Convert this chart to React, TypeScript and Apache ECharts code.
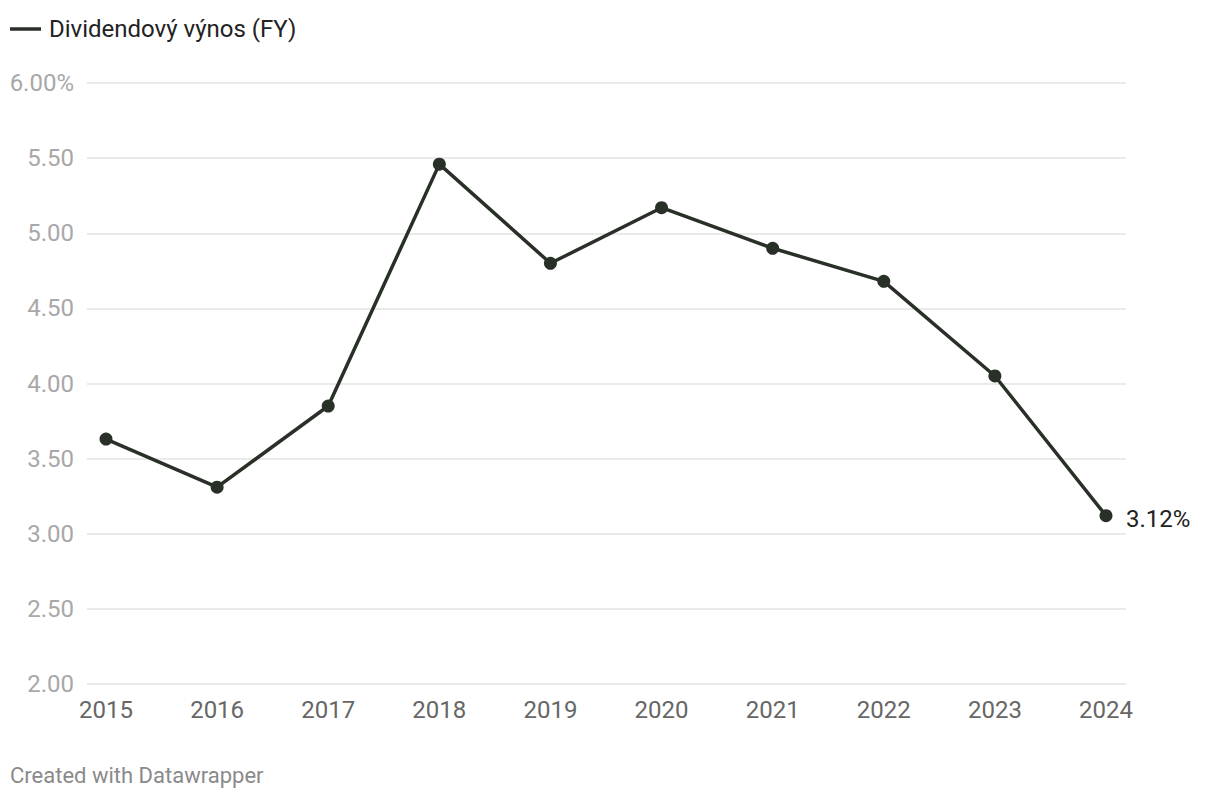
import React, { useEffect, useRef } from "react";
import * as echarts from "echarts";

const years = ["2015", "2016", "2017", "2018", "2019", "2020", "2021", "2022", "2023", "2024"];
const yieldValues = [3.63, 3.31, 3.85, 5.46, 4.8, 5.17, 4.9, 4.68, 4.05, 3.12];
const seriesName = "Dividendový výnos (FY)";
const yMin = 2;
const yMax = 6;
const yStep = 0.5;

const FONT = "Roboto, 'Noto Sans', sans-serif";
const LINE = "#293027";

export default function App() {
  const ref = useRef<HTMLDivElement>(null);
  useEffect(() => {
    if (!ref.current) return;
    const chart = echarts.init(ref.current, undefined, { renderer: "svg" });
    chart.setOption({
      animation: false,
      backgroundColor: "#ffffff",
      textStyle: { fontFamily: FONT },
      legend: {
        left: 10,
        top: 17,
        padding: 0,
        icon: "rect",
        itemWidth: 31,
        itemHeight: 3.5,
        selectedMode: false,
        data: [{ name: seriesName, itemStyle: { color: LINE } }],
        textStyle: { fontSize: 24, color: "#222222", fontFamily: FONT, padding: [0, 0, 0, 3] },
      },
      graphic: [
        {
          type: "text",
          left: 10,
          top: 764,
          style: { text: "Created with Datawrapper", fontSize: 22, fill: "#8a8a8a", fontFamily: FONT },
        },
      ],
      grid: [
        { left: 106, right: 114, top: 83, bottom: 116 },
        { left: 87, right: 94, top: 83, bottom: 116 },
      ],
      xAxis: [
        {
          type: "category",
          gridIndex: 0,
          data: years,
          boundaryGap: false,
          axisLine: { show: false },
          axisTick: { show: false },
          splitLine: { show: false },
          axisLabel: { color: "#666666", fontSize: 24, margin: 14, fontFamily: FONT },
        },
        { type: "value", gridIndex: 1, min: 0, max: 1, show: false },
      ],
      yAxis: [
        {
          type: "value",
          gridIndex: 0,
          min: yMin,
          max: yMax,
          interval: yStep,
          axisLabel: { show: false },
          axisLine: { show: false },
          axisTick: { show: false },
          splitLine: { show: false },
        },
        {
          type: "value",
          gridIndex: 1,
          min: yMin,
          max: yMax,
          interval: yStep,
          axisLine: { show: false },
          axisTick: { show: false },
          splitLine: { show: true, lineStyle: { color: "#e3e3e3", width: 1.5 } },
          axisLabel: {
            color: "#a8a8a8",
            fontSize: 24,
            margin: 13,
            fontFamily: FONT,
            formatter: (v: number) => (v === yMax ? v.toFixed(2) + "%" : v.toFixed(2)),
          },
        },
      ],
      series: [
        {
          name: seriesName,
          type: "line",
          xAxisIndex: 0,
          yAxisIndex: 0,
          data: yieldValues,
          color: LINE,
          lineStyle: { color: LINE, width: 3.5 },
          symbol: "circle",
          symbolSize: 13,
          itemStyle: { color: LINE },
          z: 5,
          endLabel: {
            show: true,
            formatter: (p: any) => p.value.toFixed(2) + "%",
            color: "#222222",
            fontSize: 24,
            fontFamily: FONT,
            distance: 20,
            offset: [0, 3],
          },
        },
      ],
    });
    return () => chart.dispose();
  }, []);
  return <div ref={ref} style={{ width: 1220, height: 800, position: "absolute", left: 0, top: 0 }} />;
}
